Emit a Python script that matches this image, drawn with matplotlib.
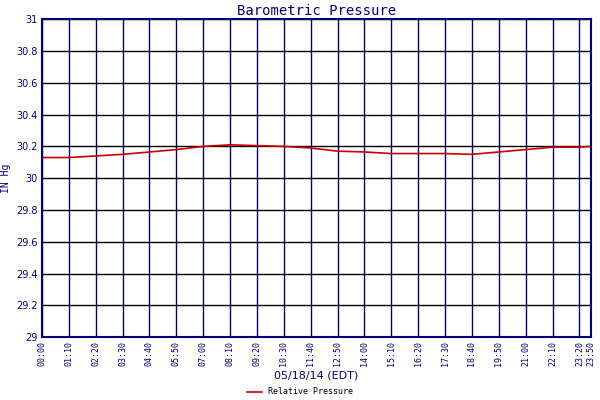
import numpy as np
import matplotlib.pyplot as plt

# minutes since midnight and pressure readings
minutes = [0, 70, 140, 210, 280, 350, 420, 490, 560, 630, 700, 770, 840,
           910, 980, 1050, 1120, 1190, 1260, 1330, 1400, 1430]
pressure = [30.13, 30.13, 30.14, 30.15, 30.165, 30.18, 30.20, 30.21, 30.205,
            30.20, 30.19, 30.17, 30.165, 30.155, 30.155, 30.155, 30.15,
            30.165, 30.18, 30.195, 30.195, 30.20]
tick_labels = ['%02d:%02d' % (m // 60, m % 60) for m in minutes]

navy = '#000080'
fig = plt.figure(figsize=(6, 4), dpi=100)
ax = fig.add_axes([0.07, 0.157, 0.915, 0.795])
ax.plot(minutes, pressure, color='#cc0000', lw=1.2, label='Relative Pressure')
ax.set_xlim(0, 1430)
ax.set_ylim(29, 31)
ax.set_xticks(minutes)
ax.set_xticklabels(tick_labels, rotation=90, fontsize=6, family='DejaVu Sans Mono', color=navy)
ax.set_yticks(np.arange(29, 31.01, 0.2))
ax.set_yticklabels(['29', '29.2', '29.4', '29.6', '29.8', '30', '30.2', '30.4', '30.6', '30.8', '31'],
                   fontsize=7, color=navy)
ax.xaxis.grid(True, color=navy, lw=1)
ax.yaxis.grid(True, color='black', lw=1)
ax.tick_params(length=0, pad=3)
for s in ax.spines.values():
    s.set_color(navy)
    s.set_linewidth(1.5)
ax.set_title('Barometric Pressure', color=navy, fontsize=10, family='DejaVu Sans Mono', pad=3)
ax.set_ylabel('IN Hg', color=navy, fontsize=7, family='DejaVu Sans Mono', labelpad=4)
ax.set_xlabel('05/18/14 (EDT)', color=navy, fontsize=8, labelpad=3)
fig.legend(loc='lower center', bbox_to_anchor=(0.5, -0.01), frameon=False,
           prop={'family': 'DejaVu Sans Mono', 'size': 6}, handlelength=1.8)
fig.savefig('out.png')
